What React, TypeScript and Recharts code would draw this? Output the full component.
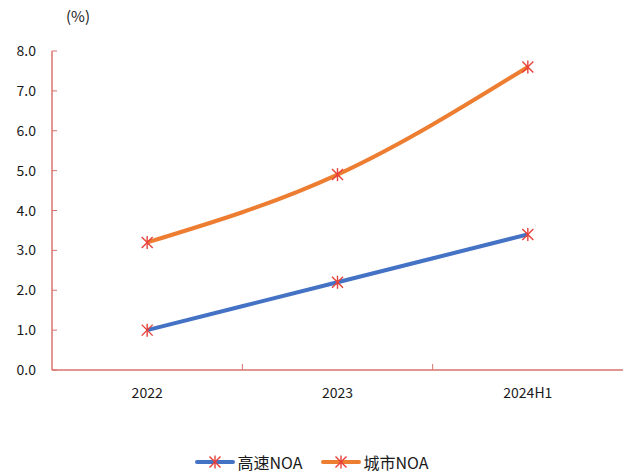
import { LineChart, Line, XAxis, YAxis } from 'recharts';

const periods = ['2022', '2023', '2024H1'];
const highwayNoa = [1.0, 2.2, 3.4];
const cityNoa = [3.2, 4.9, 7.6];
const yTicks = [0, 1, 2, 3, 4, 5, 6, 7, 8];

const seriesNames = { highway: '高速NOA', city: '城市NOA' };
const colors = { highway: '#4472c4', city: '#ed7d31', marker: '#e8413a', axis: '#d9736d' };

const data = periods.map((p, i) => ({ period: p, highway: highwayNoa[i], city: cityNoa[i] }));

const FONT = '"Noto Sans CJK SC", "Noto Sans", sans-serif';
const WIDTH = 623;
const AXIS_X = 52;
const AXIS_Y = 370;

// red asterisk marker: an x with a vertical stroke
const Asterisk = (props: any) => {
    const { cx, cy } = props;
    if (cx == null || cy == null) return null;
    const r = 5.5;
    return (
        <g stroke={colors.marker} strokeWidth={1.4}>
            <line x1={cx - r} y1={cy - r} x2={cx + r} y2={cy + r} />
            <line x1={cx - r} y1={cy + r} x2={cx + r} y2={cy - r} />
            <line x1={cx} y1={cy - r - 1} x2={cx} y2={cy + r + 1} />
        </g>
    );
};

const YTick = (props: any) => {
    const { x, y, payload } = props;
    return (
        <g>
            <line x1={AXIS_X} x2={AXIS_X + 5} y1={y} y2={y} stroke={colors.axis} strokeWidth={1} />
            <text x={x} y={y} dy={5} textAnchor="end" fontSize={14} fill="#1a1a1a" fontFamily={FONT}>
                {payload.value.toFixed(1)}
            </text>
        </g>
    );
};

const XTick = (props: any) => {
    const { x, y, payload, index } = props;
    const half = (WIDTH - AXIS_X) / periods.length / 2;
    return (
        <g>
            {index < periods.length - 1 && (
                <line x1={x + half} x2={x + half} y1={AXIS_Y} y2={AXIS_Y - 6} stroke={colors.axis} strokeWidth={1} />
            )}
            <text x={x} y={y} dy={20} textAnchor="middle" fontSize={14} fill="#1a1a1a" fontFamily={FONT}>
                {payload.value}
            </text>
        </g>
    );
};

const LegendContent = () => {
    const items = [
        { key: 'highway', label: seriesNames.highway, color: colors.highway },
        { key: 'city', label: seriesNames.city, color: colors.city },
    ];
    return (
        <div style={{ display: 'flex', justifyContent: 'center', gap: 18, fontFamily: FONT, fontSize: 16, color: '#1a1a1a' }}>
            {items.map((it) => (
                <div key={it.key} style={{ display: 'flex', alignItems: 'center' }}>
                    <svg width={40} height={14} style={{ marginRight: 3 }}>
                        <line x1={2} x2={38} y1={7} y2={7} stroke={it.color} strokeWidth={4} strokeLinecap="round" />
                        <Asterisk cx={20} cy={7} />
                    </svg>
                    <span>{it.label}</span>
                </div>
            ))}
        </div>
    );
};

export default function App() {
    return (
        <div style={{ position: 'absolute', left: 0, top: 0, width: WIDTH, height: 473, background: '#fff' }}>
            <div style={{ position: 'absolute', left: 66, top: 5, fontFamily: FONT, fontSize: 15, color: '#1a1a1a' }}>(%)</div>
            <LineChart width={WIDTH} height={473} data={data} margin={{ top: 51, right: 0, bottom: 50, left: 0 }}>
                <XAxis
                    dataKey="period"
                    scale="band"
                    axisLine={{ stroke: colors.axis, strokeWidth: 1.5 }}
                    tickLine={false}
                    tick={<XTick />}
                    height={53}
                    interval={0}
                />
                <YAxis
                    domain={[0, 8]}
                    ticks={yTicks}
                    width={AXIS_X}
                    axisLine={{ stroke: colors.axis, strokeWidth: 1.5 }}
                    tickLine={false}
                    tick={<YTick />}
                    tickMargin={12}
                    tickSize={4}
                />
                <Line
                    type="monotone"
                    dataKey="highway"
                    name={seriesNames.highway}
                    stroke={colors.highway}
                    strokeWidth={4}
                    dot={<Asterisk />}
                    activeDot={false}
                    isAnimationActive={false}
                />
                <Line
                    type="monotone"
                    dataKey="city"
                    name={seriesNames.city}
                    stroke={colors.city}
                    strokeWidth={4}
                    dot={<Asterisk />}
                    activeDot={false}
                    isAnimationActive={false}
                />
            </LineChart>
            <div style={{ position: 'absolute', left: 0, top: 450, width: WIDTH }}>
                <LegendContent />
            </div>
        </div>
    );
}
